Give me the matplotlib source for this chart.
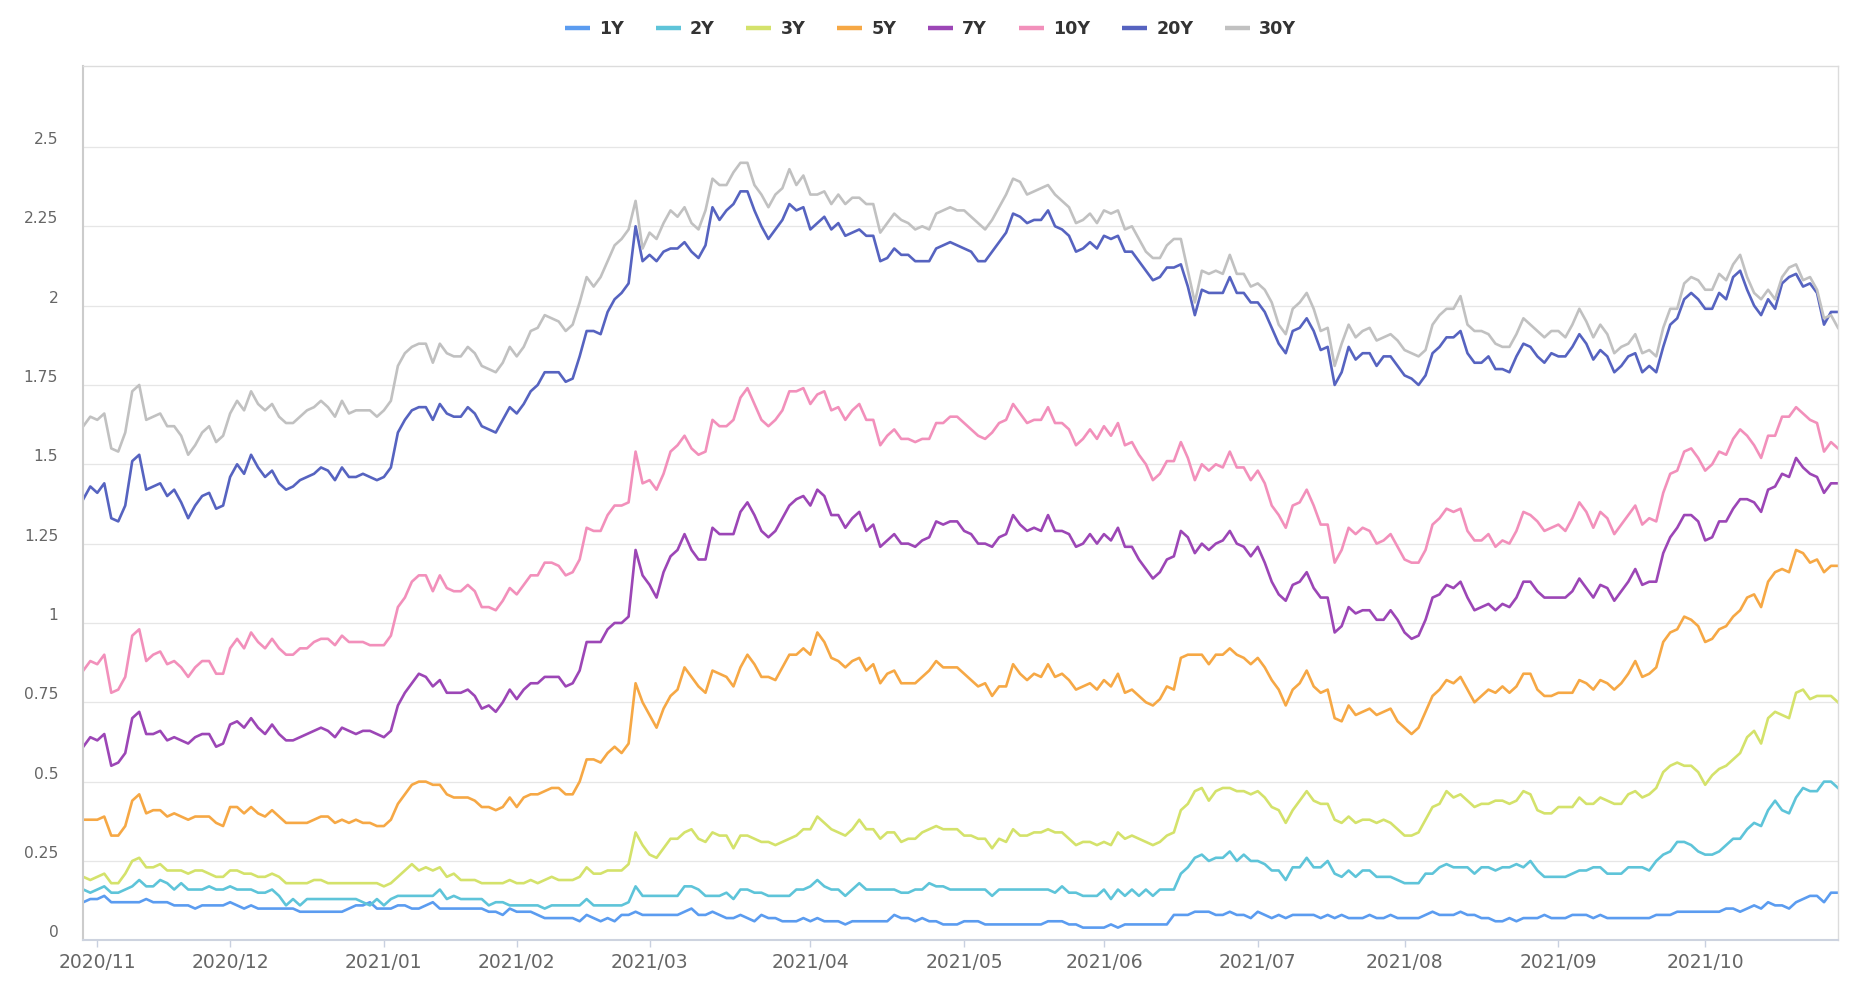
import matplotlib
matplotlib.use("Agg")
import matplotlib.pyplot as plt
import matplotlib.transforms as mtransforms
from matplotlib.lines import Line2D
import numpy as np
import pandas as pd

# ---------------- data ----------------
holidays = ["2020-11-11", "2020-11-26", "2020-12-25", "2021-01-01", "2021-01-18",
            "2021-02-15", "2021-05-31", "2021-07-05", "2021-09-06", "2021-10-11"]
dates = pd.bdate_range("2020-10-29", "2021-10-29", freq="C", holidays=holidays)

series_names = ["1Y", "2Y", "3Y", "5Y", "7Y", "10Y", "20Y", "30Y"]

y1 = [0.12,0.13,0.13,0.14,0.12,0.12,0.12,0.12,0.12,0.13,0.12,0.12,0.12,0.11,0.11,0.11,0.10,0.11,0.11,0.11,0.11,0.12,0.11,0.10,0.11,0.10,0.10,0.10,0.10,0.10,0.10,0.09,0.09,
      0.09,0.09,0.09,0.09,0.09,0.10,0.11,0.11,0.12,0.10,0.10,0.10,0.11,0.11,0.10,0.10,0.11,0.12,0.10,0.10,0.10,0.10,0.10,0.10,0.10,0.09,0.09,0.08,
      0.10,0.09,0.09,0.09,0.08,0.07,0.07,0.07,0.07,0.07,0.06,0.08,0.07,0.06,0.07,0.06,0.08,0.08,0.09,0.08,0.08,0.08,0.08,0.08,0.08,0.09,0.10,0.08,
      0.08,0.09,0.08,0.07,0.07,0.08,0.07,0.06,0.08,0.07,0.07,0.06,0.06,0.06,0.07,0.06,0.07,0.06,0.06,0.06,0.05,0.06,0.06,0.06,0.06,0.06,0.06,0.08,0.07,
      0.07,0.06,0.07,0.06,0.06,0.05,0.05,0.05,0.06,0.06,0.06,0.05,0.05,0.05,0.05,0.05,0.05,0.05,0.05,0.05,0.06,0.06,0.06,0.05,0.05,0.04,0.04,0.04,0.04,
      0.05,0.04,0.05,0.05,0.05,0.05,0.05,0.05,0.05,0.08,0.08,0.08,0.09,0.09,0.09,0.08,0.08,0.09,0.08,0.08,0.07,0.09,0.08,0.07,0.08,0.07,0.08,0.08,
      0.08,0.08,0.07,0.08,0.07,0.08,0.07,0.07,0.07,0.08,0.07,0.07,0.08,0.07,0.07,0.07,0.07,0.08,0.09,0.08,0.08,0.08,0.09,0.08,0.08,0.07,0.07,0.06,0.06,
      0.07,0.06,0.07,0.07,0.07,0.08,0.07,0.07,0.07,0.08,0.08,0.08,0.07,0.08,0.07,0.07,0.07,0.07,0.07,0.07,
      0.07,0.08,0.08,0.08,0.09,0.09,0.09,0.09,0.09,0.09,0.09,0.10,0.10,0.09,0.10,0.11,0.10,0.12,0.11,0.11,0.10,0.12,0.13,0.14,0.14,0.12,0.15,0.15]

y2 = [0.16,0.15,0.16,0.17,0.15,0.15,0.16,0.17,0.19,0.17,0.17,0.19,0.18,0.16,0.18,0.16,0.16,0.16,0.17,0.16,0.16,0.17,0.16,0.16,0.16,0.15,0.15,0.16,0.14,0.11,0.13,0.11,0.13,
      0.13,0.13,0.13,0.13,0.13,0.13,0.13,0.12,0.11,0.13,0.11,0.13,0.14,0.14,0.14,0.14,0.14,0.14,0.16,0.13,0.14,0.13,0.13,0.13,0.13,0.11,0.12,0.12,
      0.11,0.11,0.11,0.11,0.11,0.10,0.11,0.11,0.11,0.11,0.11,0.13,0.11,0.11,0.11,0.11,0.11,0.12,0.17,0.14,0.14,0.14,0.14,0.14,0.14,0.17,0.17,0.16,
      0.14,0.14,0.14,0.15,0.13,0.16,0.16,0.15,0.15,0.14,0.14,0.14,0.14,0.16,0.16,0.17,0.19,0.17,0.16,0.16,0.14,0.16,0.18,0.16,0.16,0.16,0.16,0.16,0.15,
      0.15,0.16,0.16,0.18,0.17,0.17,0.16,0.16,0.16,0.16,0.16,0.16,0.14,0.16,0.16,0.16,0.16,0.16,0.16,0.16,0.16,0.15,0.17,0.15,0.15,0.14,0.14,0.14,0.16,
      0.13,0.16,0.14,0.16,0.14,0.16,0.14,0.16,0.16,0.16,0.21,0.23,0.26,0.27,0.25,0.26,0.26,0.28,0.25,0.27,0.25,0.25,0.24,0.22,0.22,0.19,0.23,0.23,
      0.26,0.23,0.23,0.25,0.21,0.20,0.22,0.20,0.22,0.22,0.20,0.20,0.20,0.19,0.18,0.18,0.18,0.21,0.21,0.23,0.24,0.23,0.23,0.23,0.21,0.23,0.23,0.22,0.23,
      0.23,0.24,0.23,0.25,0.22,0.20,0.20,0.20,0.20,0.21,0.22,0.22,0.23,0.23,0.21,0.21,0.21,0.23,0.23,0.23,
      0.22,0.25,0.27,0.28,0.31,0.31,0.30,0.28,0.27,0.27,0.28,0.30,0.32,0.32,0.35,0.37,0.36,0.41,0.44,0.41,0.40,0.45,0.48,0.47,0.47,0.50,0.50,0.48]

y3 = [0.20,0.19,0.20,0.21,0.18,0.18,0.21,0.25,0.26,0.23,0.23,0.24,0.22,0.22,0.22,0.21,0.22,0.22,0.21,0.20,0.20,0.22,0.22,0.21,0.21,0.20,0.20,0.21,0.20,0.18,0.18,0.18,0.18,
      0.19,0.19,0.18,0.18,0.18,0.18,0.18,0.18,0.18,0.18,0.17,0.18,0.20,0.22,0.24,0.22,0.23,0.22,0.23,0.20,0.21,0.19,0.19,0.19,0.18,0.18,0.18,0.18,
      0.19,0.18,0.18,0.19,0.18,0.19,0.20,0.19,0.19,0.19,0.20,0.23,0.21,0.21,0.22,0.22,0.22,0.24,0.34,0.30,0.27,0.26,0.29,0.32,0.32,0.34,0.35,0.32,
      0.31,0.34,0.33,0.33,0.29,0.33,0.33,0.32,0.31,0.31,0.30,0.31,0.32,0.33,0.35,0.35,0.39,0.37,0.35,0.34,0.33,0.35,0.38,0.35,0.35,0.32,0.34,0.34,0.31,
      0.32,0.32,0.34,0.35,0.36,0.35,0.35,0.35,0.33,0.33,0.32,0.32,0.29,0.32,0.31,0.35,0.33,0.33,0.34,0.34,0.35,0.34,0.34,0.32,0.30,0.31,0.31,0.30,0.31,
      0.30,0.34,0.32,0.33,0.32,0.31,0.30,0.31,0.33,0.34,0.41,0.43,0.47,0.48,0.44,0.47,0.48,0.48,0.47,0.47,0.46,0.47,0.45,0.42,0.41,0.37,0.41,0.44,
      0.47,0.44,0.43,0.43,0.38,0.37,0.39,0.37,0.38,0.38,0.37,0.38,0.37,0.35,0.33,0.33,0.34,0.38,0.42,0.43,0.47,0.45,0.46,0.44,0.42,0.43,0.43,0.44,0.44,
      0.43,0.44,0.47,0.46,0.41,0.40,0.40,0.42,0.42,0.42,0.45,0.43,0.43,0.45,0.44,0.43,0.43,0.46,0.47,0.45,
      0.46,0.48,0.53,0.55,0.56,0.55,0.55,0.53,0.49,0.52,0.54,0.55,0.57,0.59,0.64,0.66,0.62,0.70,0.72,0.71,0.70,0.78,0.79,0.76,0.77,0.77,0.77,0.75]

y5 = [0.38,0.38,0.38,0.39,0.33,0.33,0.36,0.44,0.46,0.40,0.41,0.41,0.39,0.40,0.39,0.38,0.39,0.39,0.39,0.37,0.36,0.42,0.42,0.40,0.42,0.40,0.39,0.41,0.39,0.37,0.37,0.37,0.37,
      0.38,0.39,0.39,0.37,0.38,0.37,0.38,0.37,0.37,0.36,0.36,0.38,0.43,0.46,0.49,0.50,0.50,0.49,0.49,0.46,0.45,0.45,0.45,0.44,0.42,0.42,0.41,0.42,
      0.45,0.42,0.45,0.46,0.46,0.47,0.48,0.48,0.46,0.46,0.50,0.57,0.57,0.56,0.59,0.61,0.59,0.62,0.81,0.75,0.71,0.67,0.73,0.77,0.79,0.86,0.83,0.80,
      0.78,0.85,0.84,0.83,0.80,0.86,0.90,0.87,0.83,0.83,0.82,0.86,0.90,0.90,0.92,0.90,0.97,0.94,0.89,0.88,0.86,0.88,0.89,0.85,0.87,0.81,0.84,0.85,0.81,
      0.81,0.81,0.83,0.85,0.88,0.86,0.86,0.86,0.84,0.82,0.80,0.81,0.77,0.80,0.80,0.87,0.84,0.82,0.84,0.83,0.87,0.83,0.84,0.82,0.79,0.80,0.81,0.79,0.82,
      0.80,0.84,0.78,0.79,0.77,0.75,0.74,0.76,0.80,0.79,0.89,0.90,0.90,0.90,0.87,0.90,0.90,0.92,0.90,0.89,0.87,0.89,0.86,0.82,0.79,0.74,0.79,0.81,
      0.85,0.80,0.78,0.79,0.70,0.69,0.74,0.71,0.72,0.73,0.71,0.72,0.73,0.69,0.67,0.65,0.67,0.72,0.77,0.79,0.82,0.81,0.83,0.79,0.75,0.77,0.79,0.78,0.80,
      0.78,0.80,0.84,0.84,0.79,0.77,0.77,0.78,0.78,0.78,0.82,0.81,0.79,0.82,0.81,0.79,0.81,0.84,0.88,0.83,
      0.84,0.86,0.94,0.97,0.98,1.02,1.01,0.99,0.94,0.95,0.98,0.99,1.02,1.04,1.08,1.09,1.05,1.13,1.16,1.17,1.16,1.23,1.22,1.19,1.20,1.16,1.18,1.18]

y7 = [0.61,0.64,0.63,0.65,0.55,0.56,0.59,0.70,0.72,0.65,0.65,0.66,0.63,0.64,0.63,0.62,0.64,0.65,0.65,0.61,0.62,0.68,0.69,0.67,0.70,0.67,0.65,0.68,0.65,0.63,0.63,0.64,0.65,
      0.66,0.67,0.66,0.64,0.67,0.66,0.65,0.66,0.66,0.65,0.64,0.66,0.74,0.78,0.81,0.84,0.83,0.80,0.82,0.78,0.78,0.78,0.79,0.77,0.73,0.74,0.72,0.75,
      0.79,0.76,0.79,0.81,0.81,0.83,0.83,0.83,0.80,0.81,0.85,0.94,0.94,0.94,0.98,1.00,1.00,1.02,1.23,1.15,1.12,1.08,1.16,1.21,1.23,1.28,1.23,1.20,
      1.20,1.30,1.28,1.28,1.28,1.35,1.38,1.34,1.29,1.27,1.29,1.33,1.37,1.39,1.40,1.37,1.42,1.40,1.34,1.34,1.30,1.33,1.35,1.29,1.31,1.24,1.26,1.28,1.25,
      1.25,1.24,1.26,1.27,1.32,1.31,1.32,1.32,1.29,1.28,1.25,1.25,1.24,1.27,1.28,1.34,1.31,1.29,1.30,1.29,1.34,1.29,1.29,1.28,1.24,1.25,1.28,1.25,1.28,
      1.26,1.30,1.24,1.24,1.20,1.17,1.14,1.16,1.20,1.21,1.29,1.27,1.22,1.25,1.23,1.25,1.26,1.29,1.25,1.24,1.21,1.24,1.19,1.13,1.09,1.07,1.12,1.13,
      1.16,1.11,1.08,1.08,0.97,0.99,1.05,1.03,1.04,1.04,1.01,1.01,1.04,1.01,0.97,0.95,0.96,1.01,1.08,1.09,1.12,1.11,1.13,1.08,1.04,1.05,1.06,1.04,1.06,
      1.05,1.08,1.13,1.13,1.10,1.08,1.08,1.08,1.08,1.10,1.14,1.11,1.08,1.12,1.11,1.07,1.10,1.13,1.17,1.12,
      1.13,1.13,1.22,1.27,1.30,1.34,1.34,1.32,1.26,1.27,1.32,1.32,1.36,1.39,1.39,1.38,1.35,1.42,1.43,1.47,1.46,1.52,1.49,1.47,1.46,1.41,1.44,1.44]

y10 = [0.85,0.88,0.87,0.90,0.78,0.79,0.83,0.96,0.98,0.88,0.90,0.91,0.87,0.88,0.86,0.83,0.86,0.88,0.88,0.84,0.84,0.92,0.95,0.92,0.97,0.94,0.92,0.95,0.92,0.90,0.90,0.92,0.92,
       0.94,0.95,0.95,0.93,0.96,0.94,0.94,0.94,0.93,0.93,0.93,0.96,1.05,1.08,1.13,1.15,1.15,1.10,1.15,1.11,1.10,1.10,1.12,1.10,1.05,1.05,1.04,1.07,
       1.11,1.09,1.12,1.15,1.15,1.19,1.19,1.18,1.15,1.16,1.20,1.30,1.29,1.29,1.34,1.37,1.37,1.38,1.54,1.44,1.45,1.42,1.47,1.54,1.56,1.59,1.55,1.53,
       1.54,1.64,1.62,1.62,1.64,1.71,1.74,1.69,1.64,1.62,1.64,1.67,1.73,1.73,1.74,1.69,1.72,1.73,1.67,1.68,1.64,1.67,1.69,1.64,1.64,1.56,1.59,1.61,1.58,
       1.58,1.57,1.58,1.58,1.63,1.63,1.65,1.65,1.63,1.61,1.59,1.58,1.60,1.63,1.64,1.69,1.66,1.63,1.64,1.64,1.68,1.63,1.63,1.61,1.56,1.58,1.61,1.58,1.62,
       1.59,1.63,1.56,1.57,1.53,1.50,1.45,1.47,1.51,1.51,1.57,1.52,1.45,1.50,1.48,1.50,1.49,1.54,1.49,1.49,1.45,1.48,1.44,1.37,1.34,1.30,1.37,1.38,
       1.42,1.37,1.31,1.31,1.19,1.23,1.30,1.28,1.30,1.29,1.25,1.26,1.28,1.24,1.20,1.19,1.19,1.23,1.31,1.33,1.36,1.35,1.36,1.29,1.26,1.26,1.28,1.24,1.26,
       1.25,1.29,1.35,1.34,1.32,1.29,1.30,1.31,1.29,1.33,1.38,1.35,1.30,1.35,1.33,1.28,1.31,1.34,1.37,1.31,
       1.33,1.32,1.41,1.47,1.48,1.54,1.55,1.52,1.48,1.50,1.54,1.53,1.58,1.61,1.59,1.56,1.52,1.59,1.59,1.65,1.65,1.68,1.66,1.64,1.63,1.54,1.57,1.55]

y20 = [1.39,1.43,1.41,1.44,1.33,1.32,1.37,1.51,1.53,1.42,1.43,1.44,1.40,1.42,1.38,1.33,1.37,1.40,1.41,1.36,1.37,1.46,1.50,1.47,1.53,1.49,1.46,1.48,1.44,1.42,1.43,1.45,1.46,
       1.47,1.49,1.48,1.45,1.49,1.46,1.46,1.47,1.46,1.45,1.46,1.49,1.60,1.64,1.67,1.68,1.68,1.64,1.69,1.66,1.65,1.65,1.68,1.66,1.62,1.61,1.60,1.64,
       1.68,1.66,1.69,1.73,1.75,1.79,1.79,1.79,1.76,1.77,1.84,1.92,1.92,1.91,1.98,2.02,2.04,2.07,2.25,2.14,2.16,2.14,2.17,2.18,2.18,2.20,2.17,2.15,
       2.19,2.31,2.27,2.30,2.32,2.36,2.36,2.30,2.25,2.21,2.24,2.27,2.32,2.30,2.31,2.24,2.26,2.28,2.24,2.26,2.22,2.23,2.24,2.22,2.22,2.14,2.15,2.18,2.16,
       2.16,2.14,2.14,2.14,2.18,2.19,2.20,2.19,2.18,2.17,2.14,2.14,2.17,2.20,2.23,2.29,2.28,2.26,2.27,2.27,2.30,2.25,2.24,2.22,2.17,2.18,2.20,2.18,2.22,
       2.21,2.22,2.17,2.17,2.14,2.11,2.08,2.09,2.12,2.12,2.13,2.06,1.97,2.05,2.04,2.04,2.04,2.09,2.04,2.04,2.01,2.01,1.98,1.93,1.88,1.85,1.92,1.93,
       1.96,1.92,1.86,1.87,1.75,1.79,1.87,1.83,1.85,1.85,1.81,1.84,1.84,1.81,1.78,1.77,1.75,1.78,1.85,1.87,1.90,1.90,1.92,1.85,1.82,1.82,1.84,1.80,1.80,
       1.79,1.84,1.88,1.87,1.84,1.82,1.85,1.84,1.84,1.87,1.91,1.88,1.83,1.86,1.84,1.79,1.81,1.84,1.85,1.79,
       1.81,1.79,1.87,1.94,1.96,2.02,2.04,2.02,1.99,1.99,2.04,2.02,2.09,2.11,2.05,2.00,1.97,2.02,1.99,2.07,2.09,2.10,2.06,2.07,2.04,1.94,1.98,1.98]

y30 = [1.62,1.65,1.64,1.66,1.55,1.54,1.60,1.73,1.75,1.64,1.65,1.66,1.62,1.62,1.59,1.53,1.56,1.60,1.62,1.57,1.59,1.66,1.70,1.67,1.73,1.69,1.67,1.69,1.65,1.63,1.63,1.65,1.67,
       1.68,1.70,1.68,1.65,1.70,1.66,1.67,1.67,1.67,1.65,1.67,1.70,1.81,1.85,1.87,1.88,1.88,1.82,1.88,1.85,1.84,1.84,1.87,1.85,1.81,1.80,1.79,1.82,
       1.87,1.84,1.87,1.92,1.93,1.97,1.96,1.95,1.92,1.94,2.01,2.09,2.06,2.09,2.14,2.19,2.21,2.24,2.33,2.18,2.23,2.21,2.26,2.30,2.28,2.31,2.26,2.24,
       2.30,2.40,2.38,2.38,2.42,2.45,2.45,2.38,2.35,2.31,2.35,2.37,2.43,2.38,2.41,2.35,2.35,2.36,2.32,2.35,2.32,2.34,2.34,2.32,2.32,2.23,2.26,2.29,2.27,
       2.26,2.24,2.25,2.24,2.29,2.30,2.31,2.30,2.30,2.28,2.26,2.24,2.27,2.31,2.35,2.40,2.39,2.35,2.36,2.37,2.38,2.35,2.33,2.31,2.26,2.27,2.29,2.26,2.30,
       2.29,2.30,2.24,2.25,2.21,2.17,2.15,2.15,2.19,2.21,2.21,2.11,2.01,2.11,2.10,2.11,2.10,2.16,2.10,2.10,2.06,2.07,2.05,2.01,1.94,1.91,1.99,2.01,
       2.04,1.99,1.92,1.93,1.81,1.88,1.94,1.90,1.92,1.93,1.89,1.90,1.91,1.89,1.86,1.85,1.84,1.86,1.94,1.97,1.99,1.99,2.03,1.94,1.92,1.92,1.91,1.88,1.87,
       1.87,1.91,1.96,1.94,1.92,1.90,1.92,1.92,1.90,1.94,1.99,1.95,1.90,1.94,1.91,1.85,1.87,1.88,1.91,1.85,
       1.86,1.84,1.93,1.99,1.99,2.07,2.09,2.08,2.05,2.05,2.10,2.08,2.13,2.16,2.09,2.04,2.02,2.05,2.02,2.09,2.12,2.13,2.08,2.09,2.05,1.96,1.97,1.93]

series_values = [y1, y2, y3, y5, y7, y10, y20, y30]

x_tick_labels = ["2020/11", "2020/12", "2021/01", "2021/02", "2021/03", "2021/04",
                 "2021/05", "2021/06", "2021/07", "2021/08", "2021/09", "2021/10"]
y_ticks = [0, 0.25, 0.5, 0.75, 1, 1.25, 1.5, 1.75, 2, 2.25, 2.5]
y_tick_labels = ["0", "0.25", "0.5", "0.75", "1", "1.25", "1.5", "1.75", "2", "2.25", "2.5"]

colors = ["#5b9cf0", "#5ec4d9", "#d4e26b", "#f6a845", "#9c46b6", "#f290bb", "#5663c0", "#c1c1c1"]

for v in series_values:
    assert len(v) == len(dates), (len(v), len(dates))

# ---------------- figure ----------------
W, H = 1850, 996
fig = plt.figure(figsize=(W / 100, H / 100), dpi=100)
fig.patch.set_facecolor("white")
ax = fig.add_axes([83.3 / W, (H - 940.3) / H, (1838 - 83.3) / W, (940.3 - 65.7) / H])

x = np.arange(len(dates))
for name, vals, c in zip(series_names, series_values, colors):
    ax.plot(x, vals, color=c, lw=1.9, label=name, solid_joinstyle="round")

# month ticks at first trading day of each month (skip Oct 2020)
pos = pd.Series(np.arange(len(dates)), index=dates)
firsts = pos.groupby([dates.year, dates.month]).min().values[1:]
ax.set_xticks(firsts[:len(x_tick_labels)])
ax.set_xticklabels(x_tick_labels)
ax.set_xlim(0, len(dates) - 1)

ax.set_ylim(0, 2.756)
ax.set_yticks(y_ticks)
ax.set_yticklabels(y_tick_labels)
ax.yaxis.grid(True, color="#e6e6e6", lw=0.9)
ax.set_axisbelow(True)

ax.tick_params(axis="y", length=0, pad=18, labelsize=11.2, labelcolor="#666666")
ax.tick_params(axis="x", length=5, width=1, color="#c8d0e0", pad=4.5,
               labelsize=13.5, labelcolor="#666666")

offset = mtransforms.ScaledTranslation(0, 9 / 100, fig.dpi_scale_trans)
for lab in ax.get_yticklabels():
    lab.set_transform(lab.get_transform() + offset)

for side in ["top", "right"]:
    ax.spines[side].set_color("#dcdcdc")
    ax.spines[side].set_linewidth(1.0)
ax.spines["left"].set_color("#cccccc")
ax.spines["left"].set_linewidth(1.5)
ax.spines["bottom"].set_color("#cdd3df")
ax.spines["bottom"].set_linewidth(1.5)

handles = [Line2D([0], [0], color=c, lw=3.2, solid_capstyle="butt") for c in colors]
leg = fig.legend(handles, series_names, loc="center", bbox_to_anchor=(0.503, 1 - 29.5 / H),
                 ncol=8, frameon=False, prop={"weight": "bold", "size": 12.6},
                 handlelength=1.43, handletextpad=0.51, columnspacing=1.83,
                 labelcolor="#333333")

fig.savefig("out.png", dpi=100, facecolor="white")
